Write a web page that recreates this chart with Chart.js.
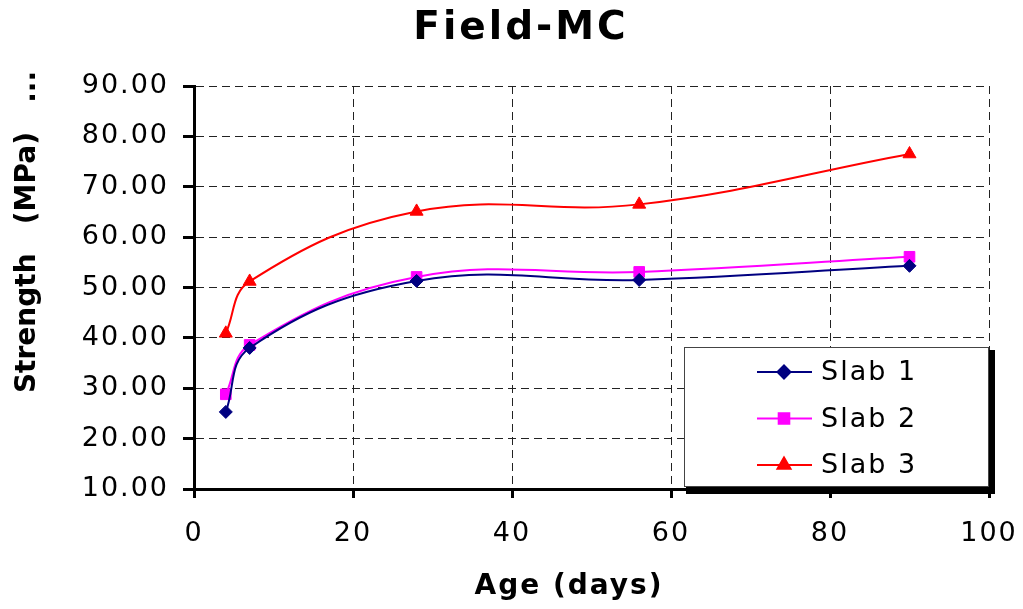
<!DOCTYPE html>
<html>
<head>
<meta charset="utf-8">
<script src="https://cdn.jsdelivr.net/npm/chart.js@4/dist/chart.umd.min.js"></script>
<style>
html, body { margin: 0; padding: 0; background: #fff; }
#wrap { width: 1023px; height: 609px; }
</style>
</head>
<body>
<div id="wrap"><canvas id="myChart"></canvas></div>
<script>
// values
const ages = [4, 7, 28, 56, 90];
const slab1 = [25.3, 38.0, 51.3, 51.5, 54.3];
const slab2 = [28.8, 38.6, 52.1, 53.1, 56.1];
const slab3 = [40.9, 51.2, 65.1, 66.5, 76.5];
const seriesNames = ['Slab 1', 'Slab 2', 'Slab 3'];
const xTicks = [0, 20, 40, 60, 80, 100];
const yTicks = [10, 20, 30, 40, 50, 60, 70, 80, 90];
const chartTitle = 'Field-MC';
const xTitle = 'Age (days)';
const yTitle = 'Strength   (MPa)   ...';

const FONT = "'DejaVu Sans', Verdana, sans-serif";
Chart.defaults.font.family = FONT;
Chart.defaults.color = '#000';

const toPoints = vals => vals.map((v, i) => ({ x: ages[i], y: v }));

// titles, boxed legend with shadow
const sheetExtras = {
    id: 'sheetExtras',
    beforeDraw(chart) {
        chart.ctx.letterSpacing = '2px';
    },
    afterDraw(chart) {
        const ctx = chart.ctx;
        const area = chart.chartArea;

        ctx.save();
        ctx.fillStyle = '#000';
        ctx.textAlign = 'center';
        ctx.textBaseline = 'middle';
        ctx.letterSpacing = '3px';
        ctx.font = 'bold 39px ' + FONT;
        ctx.fillText(chartTitle, 521, 29);
        ctx.letterSpacing = '2px';
        ctx.font = 'bold 28px ' + FONT;
        ctx.fillText(xTitle, 569, 587);
        ctx.letterSpacing = '0px';
        ctx.translate(28, 232);
        ctx.rotate(-Math.PI / 2);
        ctx.font = 'bold 28px ' + FONT;
        ctx.fillText(yTitle, 0, 0);
        ctx.restore();

        // legend
        const right = area.right;
        const bottom = area.bottom - 2;
        const left = right - 305;
        const top = bottom - 140;
        ctx.save();
        ctx.fillStyle = '#000';
        ctx.fillRect(left + 2, top + 3, 305 + 4, 140 + 4);
        ctx.fillStyle = '#fff';
        ctx.fillRect(left, top, 305, 140);
        ctx.strokeStyle = '#444';
        ctx.lineWidth = 1;
        ctx.strokeRect(left + 0.5, top + 0.5, 304, 139);

        ctx.letterSpacing = '2px';
        ctx.font = '27px ' + FONT;
        ctx.textAlign = 'left';
        ctx.textBaseline = 'middle';
        chart.data.datasets.forEach((ds, i) => {
            const y = top + 25 + i * 46.5;
            ctx.strokeStyle = ds.borderColor;
            ctx.lineWidth = 2;
            ctx.beginPath();
            ctx.moveTo(left + 73, y);
            ctx.lineTo(left + 128, y);
            ctx.stroke();
            ctx.fillStyle = ds.borderColor;
            Chart.helpers.drawPoint(ctx, {
                pointStyle: ds.pointStyle,
                radius: ds.pointRadius,
                rotation: 0,
                borderWidth: 1
            }, left + 100, y);
            ctx.fillStyle = '#000';
            ctx.fillText(ds.label, left + 137, y + 1);
        });
        ctx.restore();
    }
};

const ctx = document.getElementById('myChart').getContext('2d');
const myChart = new Chart(ctx, {
    type: 'scatter',
    data: {
        datasets: [{
            label: seriesNames[0],
            data: toPoints(slab1),
            borderColor: '#000080',
            backgroundColor: '#000080',
            pointStyle: 'rectRot',
            pointRadius: 6.5
        }, {
            label: seriesNames[1],
            data: toPoints(slab2),
            borderColor: '#ff00ff',
            backgroundColor: '#ff00ff',
            pointStyle: 'rect',
            pointRadius: 7.5
        }, {
            label: seriesNames[2],
            data: toPoints(slab3),
            borderColor: '#ff0000',
            backgroundColor: '#ff0000',
            pointStyle: 'triangle',
            pointRadius: 7.5
        }]
    },
    options: {
        responsive: true,
        maintainAspectRatio: false,
        animation: false,
        showLine: true,
        elements: {
            line: { borderWidth: 2, tension: 0.4 },
            point: { borderWidth: 1, hoverRadius: 7 }
        },
        layout: { padding: { left: 0, right: 34, top: 86, bottom: 0 } },
        plugins: {
            legend: { display: false },
            tooltip: { enabled: false },
            title: { display: false }
        },
        scales: {
            x: {
                type: 'linear',
                min: 0,
                max: 100,
                afterBuildTicks: s => { s.ticks = xTicks.map(v => ({ value: v })); },
                afterFit: s => { s.height = 120; s.paddingLeft = 0; s.paddingRight = 0; },
                ticks: {
                    font: { family: FONT, size: 27 },
                    color: '#000',
                    padding: 20,
                    maxRotation: 0
                },
                grid: {
                    color: '#222',
                    lineWidth: 1,
                    tickLength: 9,
                    tickWidth: 3,
                    tickColor: '#000'
                },
                border: { display: true, color: '#000', width: 3, dash: [8, 5] }
            },
            y: {
                type: 'linear',
                min: 10,
                max: 90,
                afterBuildTicks: s => { s.ticks = yTicks.map(v => ({ value: v })); },
                afterFit: s => { s.width = 194; s.paddingTop = 0; s.paddingBottom = 0; },
                ticks: {
                    font: { family: FONT, size: 27 },
                    color: '#000',
                    padding: 14,
                    callback: v => Number(v).toFixed(2)
                },
                grid: {
                    color: '#222',
                    lineWidth: 1,
                    tickLength: 11,
                    tickWidth: 3,
                    tickColor: '#000'
                },
                border: { display: true, color: '#000', width: 3, dash: [8, 5] }
            }
        }
    },
    plugins: [sheetExtras]
});
</script>
</body>
</html>
